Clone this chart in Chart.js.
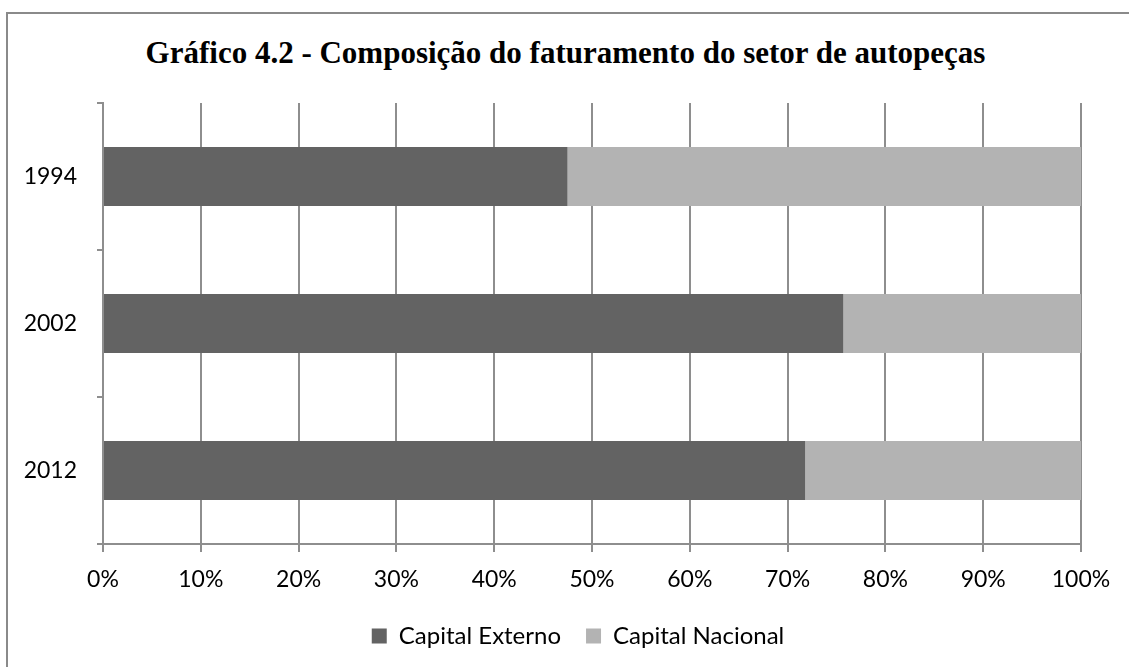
<!DOCTYPE html>
<html>
<head>
<meta charset="utf-8">
<script src="https://cdn.jsdelivr.net/npm/chart.js@4/dist/chart.umd.min.js"></script>
<style>
  html, body { margin: 0; padding: 0; background: #fff; overflow: hidden; }
  #wrap { position: relative; width: 1129px; height: 667px; }
  #frame { position: absolute; left: 6px; top: 12px; width: 1200px; height: 700px; border: 2px solid #8a8a8a; }
  #titulo {
    position: absolute; left: 0; top: 37px; width: 1129px; text-align: center;
    font: bold 31px/31px 'Liberation Serif', 'Times New Roman', serif; color: #000;
    margin-left: 1px;
  }
  canvas { position: absolute; left: 0; top: 0; }
</style>
</head>
<body>
<div id="wrap">
  <div id="frame"></div>
  <div id="titulo">Gráfico 4.2 - Composição do faturamento do setor de autopeças</div>
  <canvas id="grafico" width="1129" height="667"></canvas>
</div>
<script>
// dados
const anos = ['1994', '2002', '2012'];
const capitalExterno = [47.5, 75.7, 71.8];
const capitalNacional = [52.5, 24.3, 28.2];
const ticksX = [0, 10, 20, 30, 40, 50, 60, 70, 80, 90, 100];

const fonteEixo = "Lato, 'Liberation Sans', sans-serif";
const corGrade = '#8e8e8e';

// legenda no centro da moldura (um pouco à direita do meio)
const legendaCentro = {
  id: 'legendaCentro',
  afterLayout(chart) {
    const lg = chart.legend;
    if (!lg) return;
    const desloc = 578 - (lg.left + lg.right) / 2;
    lg.left += desloc;
    lg.right += desloc;
  }
};

const ctx = document.getElementById('grafico').getContext('2d');
new Chart(ctx, {
  type: 'bar',
  data: {
    labels: anos,
    datasets: [
      {
        label: 'Capital Externo',
        data: capitalExterno,
        backgroundColor: '#636363',
        borderWidth: 0
      },
      {
        label: 'Capital Nacional',
        data: capitalNacional,
        backgroundColor: '#b3b3b3',
        borderWidth: 0
      }
    ]
  },
  plugins: [legendaCentro],
  options: {
    indexAxis: 'y',
    responsive: false,
    animation: false,
    devicePixelRatio: 1,
    categoryPercentage: 0.4,
    barPercentage: 1,
    layout: { padding: { left: 0, right: 48, top: 103, bottom: 9 } },
    scales: {
      x: {
        stacked: true,
        min: 0,
        max: 100,
        afterBuildTicks: axis => { axis.ticks = ticksX.map(v => ({ value: v })); },
        afterFit: axis => { axis.height = 55; },
        grid: { color: corGrade, lineWidth: 2, tickLength: 8, drawOnChartArea: true },
        border: { color: corGrade, width: 2 },
        ticks: {
          padding: 14,
          color: '#000',
          font: { family: fonteEixo, size: 23 },
          maxRotation: 0,
          callback: v => v + '%'
        }
      },
      y: {
        stacked: true,
        afterFit: axis => { axis.width = 103; },
        grid: { offset: true, drawOnChartArea: false, color: corGrade, lineWidth: 2, tickLength: 6 },
        border: { color: corGrade, width: 2 },
        ticks: {
          padding: 20,
          color: '#000',
          font: { family: fonteEixo, size: 23 }
        }
      }
    },
    plugins: {
      title: { display: false },
      legend: {
        position: 'bottom',
        labels: {
          color: '#000',
          boxWidth: 15,
          boxHeight: 15,
          padding: 25,
          font: { family: fonteEixo, size: 24 }
        }
      },
      tooltip: { enabled: false }
    }
  }
});
</script>
</body>
</html>
